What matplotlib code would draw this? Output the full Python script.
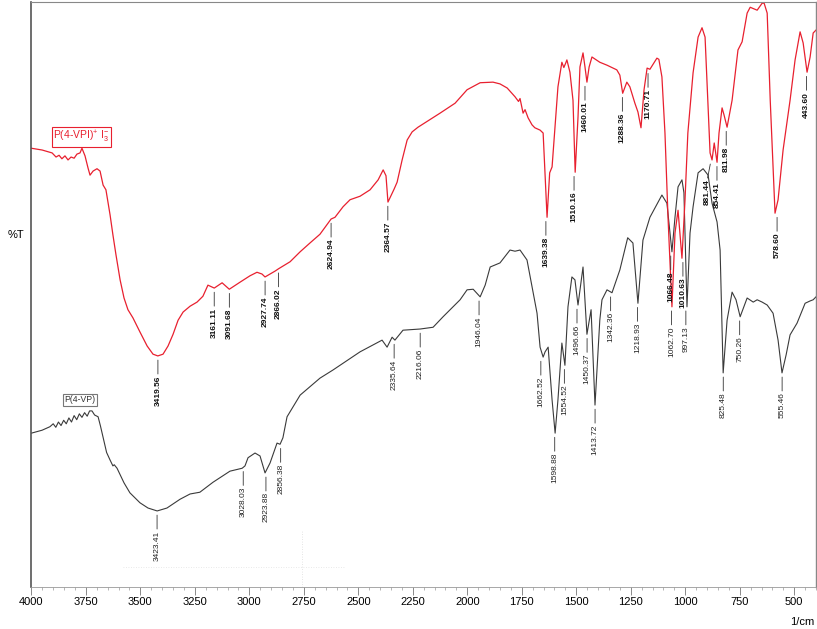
import numpy as np
import matplotlib
matplotlib.use('Agg')
import matplotlib.pyplot as plt
from matplotlib.ticker import MultipleLocator

plt.rcParams['font.family'] = ['Liberation Sans', 'DejaVu Sans']
plt.rcParams['mathtext.fontset'] = 'custom'
plt.rcParams['mathtext.rm'] = 'Liberation Sans'
plt.rcParams['mathtext.it'] = 'Liberation Sans:italic'

# ---------------- data (wavenumber in 1/cm, transmittance in arbitrary %T) ----------------
red_wn = [4000, 3951, 3905, 3887, 3873, 3860, 3846, 3832, 3818, 3804, 3791, 3777, 3768, 3754, 3740,
          3731, 3717, 3699, 3685, 3671, 3658, 3639, 3626, 3612, 3593, 3575, 3557, 3534, 3502, 3469,
          3442, 3420, 3396, 3373, 3350, 3327, 3304, 3272, 3240, 3213, 3190, 3161, 3125, 3092, 3043,
          2997, 2965, 2942, 2928, 2905, 2882, 2866, 2813, 2767, 2722, 2676, 2625, 2607, 2570, 2538,
          2492, 2446, 2409, 2386, 2373, 2364, 2336, 2322, 2299, 2276, 2253, 2226, 2125, 2056, 2001,
          1941, 1882, 1850, 1817, 1781, 1765, 1758, 1744, 1735, 1721, 1703, 1690, 1666, 1652, 1634,
          1622, 1611, 1584, 1566, 1557, 1548, 1543, 1529, 1515, 1505, 1492, 1483, 1469, 1460, 1451,
          1441, 1428, 1392, 1359, 1314, 1300, 1287, 1268, 1254, 1231, 1217, 1203, 1189, 1175, 1162,
          1130, 1121, 1107, 1093, 1079, 1061, 1047, 1033, 1015, 1001, 988, 964, 941, 923, 909,
          900, 886, 877, 867, 854, 845, 831, 822, 808, 785, 758, 739, 716, 702, 670,
          647, 638, 624, 610, 588, 574, 551, 519, 496, 473, 459, 441, 427, 413, 400]
red_t = [75.0, 74.7, 74.2, 73.5, 73.8, 73.2, 73.7, 73.0, 73.5, 73.3, 74.0, 74.2, 75.0, 73.7, 71.6,
         70.4, 71.1, 71.5, 71.1, 68.7, 67.9, 63.6, 60.2, 56.8, 52.5, 49.4, 47.4, 46.0, 43.6, 41.2,
         39.8, 39.5, 39.8, 41.2, 43.2, 45.6, 47.0, 48.0, 48.7, 49.7, 51.6, 51.1, 52.0, 50.9, 52.1,
         53.2, 53.8, 53.5, 53.0, 53.5, 54.0, 54.4, 55.6, 57.3, 58.8, 60.3, 62.9, 63.2, 65.0, 66.2,
         66.8, 67.9, 69.6, 71.3, 70.3, 65.8, 68.0, 69.2, 73.0, 76.4, 77.8, 78.6, 81.0, 82.7, 85.0,
         86.2, 86.3, 86.0, 85.3, 83.8, 83.0, 83.5, 81.0, 81.6, 80.2, 79.0, 78.5, 78.1, 77.6, 63.2,
         70.8, 71.8, 85.5, 89.7, 88.8, 89.6, 90.1, 88.0, 83.2, 70.9, 80.3, 88.9, 91.3, 88.9, 86.3,
         88.9, 90.6, 89.7, 89.2, 88.4, 87.5, 84.4, 86.3, 85.5, 82.7, 81.2, 78.5, 85.0, 88.7, 88.5,
         90.4, 90.2, 87.2, 77.6, 63.2, 47.9, 60.5, 64.4, 56.2, 66.2, 77.6, 87.9, 94.0, 95.6, 94.0,
         86.2, 74.2, 73.0, 75.9, 72.6, 77.6, 81.9, 80.7, 78.6, 83.2, 91.8, 93.2, 98.1, 99.1, 98.6,
         99.8, 99.8, 98.1, 83.2, 63.9, 66.2, 74.7, 83.2, 90.1, 94.9, 93.0, 88.0, 90.6, 94.7, 95.2]

black_wn = [4000, 3951, 3915, 3900, 3888, 3876, 3864, 3852, 3840, 3828, 3816, 3804, 3792, 3780, 3768,
            3756, 3744, 3733, 3722, 3710, 3694, 3683, 3671, 3655, 3639, 3626, 3620, 3607, 3575, 3548,
            3502, 3465, 3423, 3378, 3318, 3272, 3227, 3167, 3089, 3033, 3020, 3006, 2974, 2951, 2928,
            2905, 2873, 2859, 2846, 2827, 2767, 2676, 2616, 2492, 2391, 2368, 2345, 2332, 2295, 2216,
            2157, 2111, 2079, 2033, 2001, 1973, 1941, 1918, 1895, 1850, 1804, 1781, 1758, 1726, 1698,
            1680, 1666, 1652, 1643, 1629, 1611, 1597, 1584, 1566, 1552, 1538, 1520, 1506, 1492, 1469,
            1451, 1432, 1414, 1392, 1382, 1359, 1336, 1300, 1264, 1240, 1217, 1194, 1162, 1107, 1084,
            1061, 1047, 1033, 1015, 1006, 992, 978, 964, 941, 918, 895, 877, 854, 840, 826,
            808, 785, 767, 748, 716, 688, 670, 647, 624, 597, 574, 556, 537, 519, 487,
            450, 427, 413, 400]
black_t = [26.3, 26.8, 27.4, 27.9, 27.3, 28.2, 27.6, 28.5, 27.9, 28.9, 28.2, 29.3, 28.6, 29.6, 29.0,
           29.8, 29.2, 30.1, 30.1, 29.4, 29.1, 27.5, 25.6, 23.0, 21.7, 20.7, 20.9, 20.3, 17.8, 16.1,
           14.4, 13.5, 13.0, 13.5, 15.0, 15.9, 16.2, 17.9, 19.8, 20.3, 20.7, 22.1, 22.9, 22.4, 19.5,
           21.2, 24.6, 24.4, 25.5, 29.1, 32.8, 35.7, 37.1, 40.2, 42.2, 41.0, 42.7, 42.2, 43.9, 44.1,
           44.4, 46.2, 47.4, 49.1, 50.8, 50.9, 49.6, 51.6, 54.7, 55.4, 57.6, 57.4, 57.6, 55.9, 50.3,
           46.8, 41.0, 39.3, 40.2, 41.0, 32.0, 26.3, 32.0, 41.7, 37.9, 47.9, 53.0, 52.5, 48.2, 54.7,
           43.2, 47.4, 31.1, 45.6, 49.1, 50.8, 50.3, 54.2, 59.7, 58.8, 48.5, 59.3, 63.2, 67.0, 65.6,
           57.3, 63.2, 68.4, 69.6, 67.4, 47.9, 60.5, 65.0, 70.8, 71.5, 70.4, 65.6, 62.4, 57.6, 36.6,
           45.6, 50.4, 49.1, 46.2, 49.4, 48.7, 49.1, 48.7, 48.2, 46.8, 42.2, 36.6, 39.7, 43.1, 45.1,
           48.5, 48.9, 49.1, 49.6]

red_peak_labels = ['3419.56', '3161.11', '3091.68', '2927.74', '2866.02', '2624.94', '2364.57',
                   '1639.38', '1510.16', '1460.01', '1288.36', '1170.71', '1066.48', '1010.63',
                   '881.44', '854.41', '811.98', '578.60', '443.60']
black_peak_labels = ['3423.41', '3028.03', '2923.88', '2856.38', '2335.64', '2216.06', '1946.04',
                     '1662.52', '1598.88', '1554.52', '1496.66', '1450.37', '1413.72', '1342.36',
                     '1218.93', '1062.70', '997.13', '825.48', '750.26', '555.46']

red_name = 'P(4-VPI)$^{+}$ I$_{3}^{-}$'
black_name = 'P(4-VP)'

RED = '#e8202f'
BLACK = '#3a3a3a'

# ---------------- figure ----------------
W, H = 817, 629
fig = plt.figure(figsize=(W / 100, H / 100), dpi=100)
ax = fig.add_axes([31.4 / W, 42 / H, (816 - 31.4) / W, 585 / H])
ax.set_xlim(4000, 400)
ax.set_ylim(0, 100)

# faint scan artefacts
ax.plot([2758, 2758], [0, 9.7], color='#dcdcdc', lw=0.6, ls=(0, (1, 2)))
ax.plot([3579, 2561], [3.4, 3.4], color='#e2e2e2', lw=0.6, ls=(0, (1, 2)))

ax.plot(black_wn, black_t, color=BLACK, lw=0.8)
ax.plot(red_wn, red_t, color=RED, lw=0.9)


def dip_level(wn_arr, t_arr, x):
    wn = np.asarray(wn_arr, float)
    t = np.asarray(t_arr, float)
    inner = np.arange(1, len(t) - 1)
    mins = inner[(t[inner] < t[inner - 1]) & (t[inner] < t[inner + 1])]
    if len(mins):
        j = mins[np.argmin(np.abs(wn[mins] - x))]
        if abs(wn[j] - x) <= 35:
            return t[j]
    return np.interp(x, wn[::-1], t[::-1])


nudge = {'881.44': -2.5}
# labels that the instrument software stacked against the other spectrum's dip
swap_anchor = {'1066.48', '1062.70'}


def label_peaks(labels, wn, t, other_wn, other_t, weight, tcolor):
    for lab in labels:
        x = float(lab)
        if lab in swap_anchor:
            y = dip_level(other_wn, other_t, x)
        else:
            y = dip_level(wn, t, x)
        dx = nudge.get(lab, 0)
        ax.annotate('', xy=(x, y), xytext=(dx, -13), textcoords='offset points',
                    arrowprops=dict(arrowstyle='-', color='#333333', lw=0.6,
                                    shrinkA=0, shrinkB=3))
        ax.annotate(lab, xy=(x, y), xytext=(dx, -14), textcoords='offset points',
                    rotation=90, ha='center', va='top', fontsize=6,
                    fontweight=weight, color=tcolor)


label_peaks(black_peak_labels, black_wn, black_t, red_wn, red_t, 'normal', '#222222')
label_peaks(red_peak_labels, red_wn, red_t, black_wn, black_t, 'bold', '#111111')

ax.text(3770, 76.9, red_name, color=RED, fontsize=7.5, ha='center', va='center',
        bbox=dict(boxstyle='square,pad=0.18', fc='white', ec=RED, lw=0.8))
ax.text(3777, 32.0, black_name, color='#333333', fontsize=6.2, ha='center', va='center',
        bbox=dict(boxstyle='square,pad=0.2', fc='white', ec='#777777', lw=0.8))

# axes styling
ax.xaxis.set_major_locator(MultipleLocator(250))
ax.xaxis.set_minor_locator(MultipleLocator(50))
ax.tick_params(axis='x', which='major', direction='out', length=6, width=0.6,
               color='#777777', labelsize=8, pad=1.5)
ax.tick_params(axis='x', which='minor', direction='out', length=2.5, width=0.5, color='#999999')
ax.set_yticks([])
ax.spines['left'].set_color('#555555')
ax.spines['left'].set_linewidth(1.2)
ax.spines['top'].set_color('#888888')
ax.spines['top'].set_linewidth(0.8)
ax.spines['right'].set_color('#888888')
ax.spines['right'].set_linewidth(1.0)
ax.spines['bottom'].set_color('#999999')
ax.spines['bottom'].set_linewidth(0.6)

fig.text(16 / W, 1 - 235 / H, '%T', fontsize=8, ha='center', va='center')
fig.text(802 / W, 1 - 622 / H, '1/cm', fontsize=8, ha='center', va='center')

fig.savefig('out.png', dpi=100)
